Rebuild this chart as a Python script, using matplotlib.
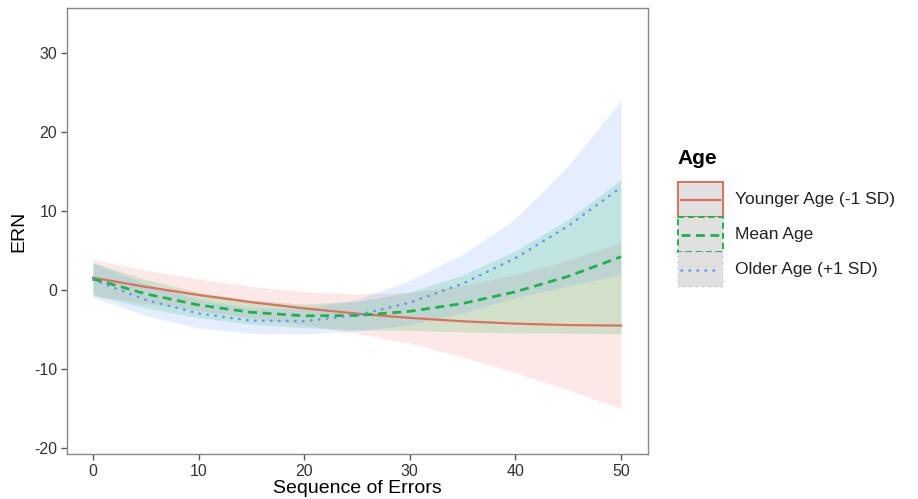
import matplotlib
matplotlib.use("Agg")
import matplotlib.pyplot as plt
from matplotlib.patches import Rectangle
import numpy as np

plt.rcParams['font.family'] = ['Liberation Sans', 'DejaVu Sans']
plt.rcParams['axes.unicode_minus'] = False

# values
errors = [0, 5, 10, 15, 20, 25, 30, 35, 40, 45, 50]

younger_fit = [1.55, 0.40, -0.63, -1.54, -2.32, -2.99, -3.53, -3.96, -4.26, -4.44, -4.50]
younger_se = [2.3, 2.1, 2.0, 2.0, 2.1, 2.5, 3.2, 4.5, 6.2, 8.2, 10.5]

mean_fit = [1.40, -0.49, -1.90, -2.82, -3.27, -3.23, -2.70, -1.71, -0.23, 1.73, 4.20]
mean_se = [2.0, 1.8, 1.6, 1.5, 1.5, 1.8, 2.4, 3.6, 5.2, 7.2, 9.75]

older_fit = [1.30, -1.25, -2.98, -3.88, -3.94, -3.19, -1.60, 0.80, 4.04, 8.10, 13.00]
older_se = [2.2, 2.0, 1.8, 1.6, 1.6, 2.0, 2.8, 3.7, 5.0, 7.6, 11.0]

labels = ["Younger Age (-1 SD)", "Mean Age", "Older Age (+1 SD)"]
line_colors = ["#DE7059", "#1DB447", "#5E96F5"]
fill_colors = ["#F8766D", "#00BA38", "#619CFF"]
fill_alpha = [0.16, 0.17, 0.17]
styles = ["-", (0, (3.2, 2.0)), (0, (0.2, 3.0))]
widths = [1.6, 2.0, 1.8]
caps = ["round", "butt", "round"]

x_ticks = [0, 10, 20, 30, 40, 50]
y_ticks = [-20, -10, 0, 10, 20, 30]

fig = plt.figure(figsize=(9.18, 4.99), dpi=100)
ax = fig.add_axes([67 / 918, 1 - 454 / 499, (648 - 67) / 918, (454 - 8) / 499])

series = [(younger_fit, younger_se), (mean_fit, mean_se), (older_fit, older_se)]
x = np.array(errors)
for (fit, se), col, a in zip(series, fill_colors, fill_alpha):
    fit = np.array(fit)
    se = np.array(se)
    ax.fill_between(x, fit - se, fit + se, color=col, alpha=a, linewidth=0)

for (fit, se), col, ls, lw, cap in zip(series, line_colors, styles, widths, caps):
    ax.plot(x, fit, color=col, linestyle=ls, linewidth=lw, dash_capstyle=cap)

ax.set_xlim(-2.46, 52.56)
ax.set_ylim(-20.76, 35.7)
ax.set_xticks(x_ticks)
ax.set_yticks(y_ticks)
ax.tick_params(direction='out', length=4, width=1, color='#555555',
               labelsize=11.5, labelcolor='#333333', pad=3)
for sp in ax.spines.values():
    sp.set_color('#888888')
    sp.set_linewidth(1)

ax.set_xlabel("Sequence of Errors", fontsize=14, labelpad=1)
ax.set_ylabel("ERN", fontsize=14, labelpad=5)

# legend drawn by hand in pixel space
lg = fig.add_axes([0, 0, 1, 1], facecolor='none')
lg.set_xlim(0, 918)
lg.set_ylim(499, 0)
lg.axis('off')
lg.text(677, 158, "Age", fontsize=15, fontweight='bold', va='center', ha='left')
box_top = [182, 217, 252]
box_h = 35
for top, col, ls, lw, cap, lab in zip(box_top, line_colors, styles, widths, caps, labels):
    lg.add_patch(Rectangle((678, top), 45, box_h, facecolor='#E0E0E0',
                           edgecolor=col, linestyle=ls, linewidth=1.4))
    cy = top + box_h / 2
    lg.plot([681, 720], [cy, cy], color=col, linestyle=ls, linewidth=lw,
            dash_capstyle=cap)
    lg.text(735, cy, lab, fontsize=12.5, va='center', ha='left', color='#222222')

fig.savefig("out.png", dpi=100)
